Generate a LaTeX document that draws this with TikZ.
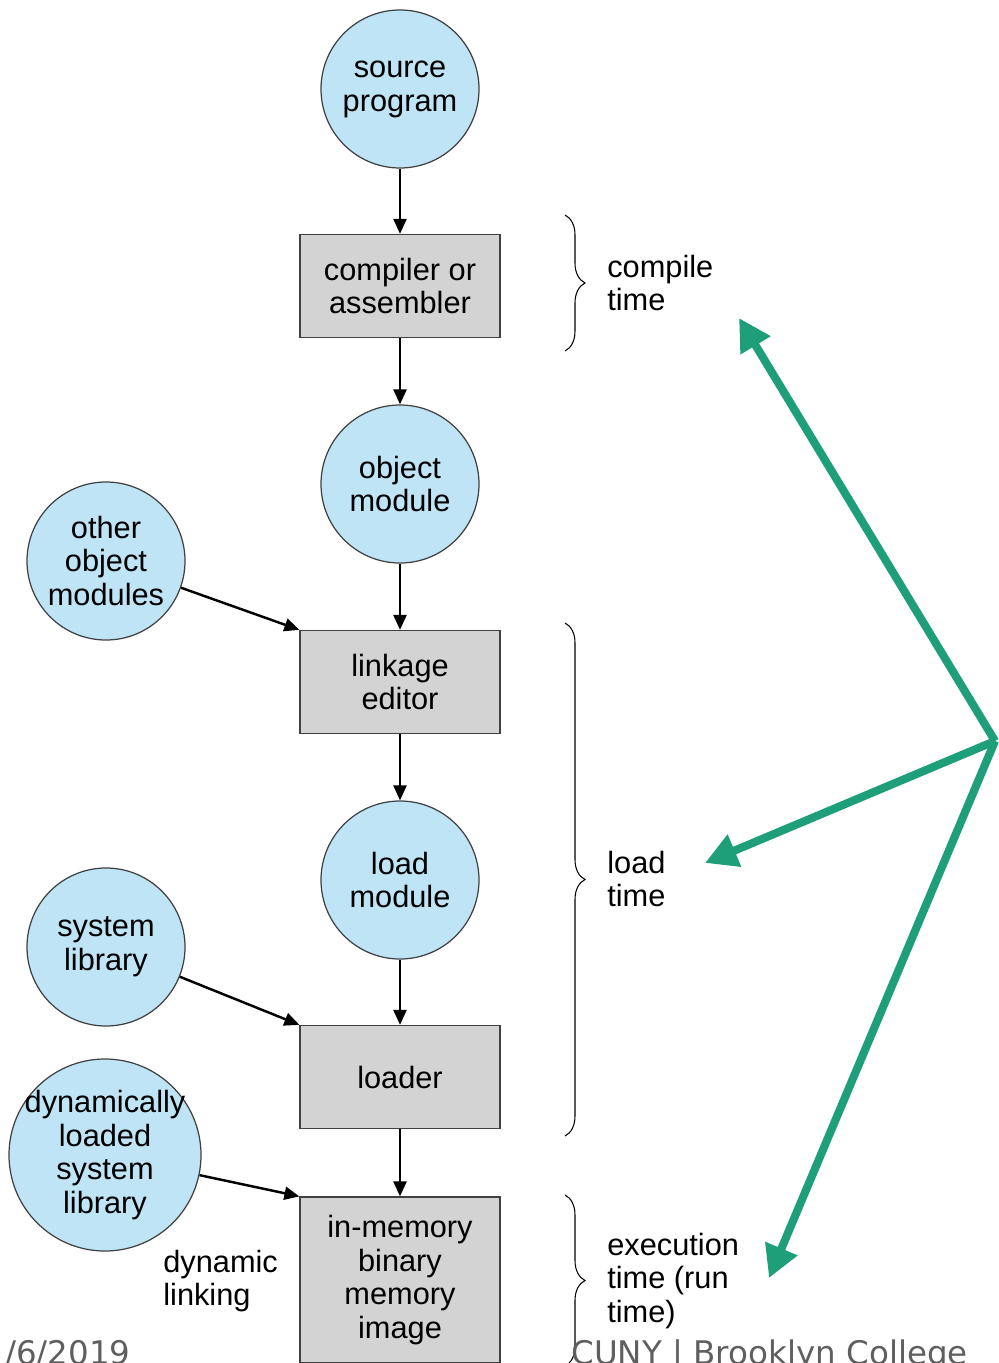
\documentclass[tikz,border=0pt]{standalone}
\usepackage{fontspec}
\setmainfont{Liberation Sans}
\newfontfamily\footfont{DejaVu Sans}
\usetikzlibrary{arrows.meta,decorations.pathreplacing}

\definecolor{modblue}{RGB}{191,228,245}
\definecolor{stepgray}{RGB}{211,211,211}
\definecolor{hintgreen}{RGB}{31,158,122}
\definecolor{footgray}{RGB}{95,95,95}

\begin{document}
\begin{tikzpicture}[x=0.2mm, y=-0.2mm, font=\fontsize{17.5}{19.3}\selectfont]
    \useasboundingbox (0,0) rectangle (999,1363);

    \begin{scope}[every node/.style={circle, fill=modblue, draw=black!75, line width=0.7pt, minimum size=31.6mm, inner sep=0pt, align=center}] %modules
        \node (src) at (400,89) {source\\program};
        \node (obj) at (400,484) {object\\module};
        \node (other) at (106,561) {other\\object\\modules};
        \node (loadmod) at (400,880) {load\\module};
        \node (syslib) at (106,947) {system\\library};
        \node[minimum size=38.4mm, inner sep=-2mm] (dynlib) at (105,1155) {dynamically\\loaded\\system\\library};
    \end{scope}

    \begin{scope}[every node/.style={rectangle, fill=stepgray, draw=black!75, line width=0.7pt, minimum width=40mm, minimum height=20.6mm, align=center}] %steps
        \node (comp) at (400,286) {compiler or\\assembler};
        \node (link) at (400,682) {linkage\\editor};
        \node (loader) at (400,1077) {loader};
        \node[minimum height=33.2mm] (mem) at (400,1280) {in-memory\\binary\\memory\\image};
    \end{scope}

    \begin{scope}[every edge/.style={draw, line width=1.4pt, -{Triangle[length=3mm, width=2.6mm]}}]
        \path (src) edge (comp);
        \path (comp) edge (obj);
        \path (obj) edge (link);
        \path (link) edge (loadmod);
        \path (loadmod) edge (loader);
        \path (loader) edge (mem);
        \path (other) edge (link.north west);
        \path (syslib) edge (loader.north west);
        \path (dynlib) edge (mem.north west);
    \end{scope}

    \node[anchor=west, align=left, inner sep=0pt] (dynlink) at (163,1281) {dynamic\\linking};

    % time braces
    \begin{scope}[every node/.style={anchor=west, align=left, inner sep=0pt}]
        \coordinate (c1) at (565,215);
        \coordinate (c2) at (565,351);
        \coordinate (l1) at (565,623);
        \coordinate (l2) at (565,1136);
        \coordinate (e1) at (565,1195);
        \coordinate (e2) at (565,1366);
        \draw[line width=0.6pt, decorate, decoration={brace, amplitude=4mm}] (c1) -- (c2);
        \draw[line width=0.6pt, decorate, decoration={brace, amplitude=4mm}] (l1) -- (l2);
        \draw[line width=0.6pt, decorate, decoration={brace, amplitude=4mm}] (e1) -- (e2);
        \node (ctime) at (607,283) {compile\\time};
        \node (ltime) at (607,879) {load\\time};
        \node (etime) at (607,1281) {execution\\time (run\\time)};
    \end{scope}

    % green pointers
    \begin{scope}[every edge/.style={draw, hintgreen, line width=4.6pt, -{Triangle[length=6.4mm, width=6.6mm]}}]
        \coordinate (hub) at (995,741);
        \coordinate (tc) at (739,318);
        \coordinate (tl) at (705,863);
        \coordinate (te) at (769,1278);
        \path (hub) edge (tc);
        \path (hub) edge (tl);
        \path (hub) edge (te);
    \end{scope}

    \node[font=\footfont\fontsize{18.5}{22}\selectfont, text=footgray, anchor=base east, inner sep=0pt] (date) at (131,1364) {/6/2019};
    \node[font=\footfont\fontsize{18.5}{22}\selectfont, text=footgray, anchor=base west, inner sep=0pt] (school) at (571,1364) {CUNY | Brooklyn College};

\end{tikzpicture}
\end{document}
